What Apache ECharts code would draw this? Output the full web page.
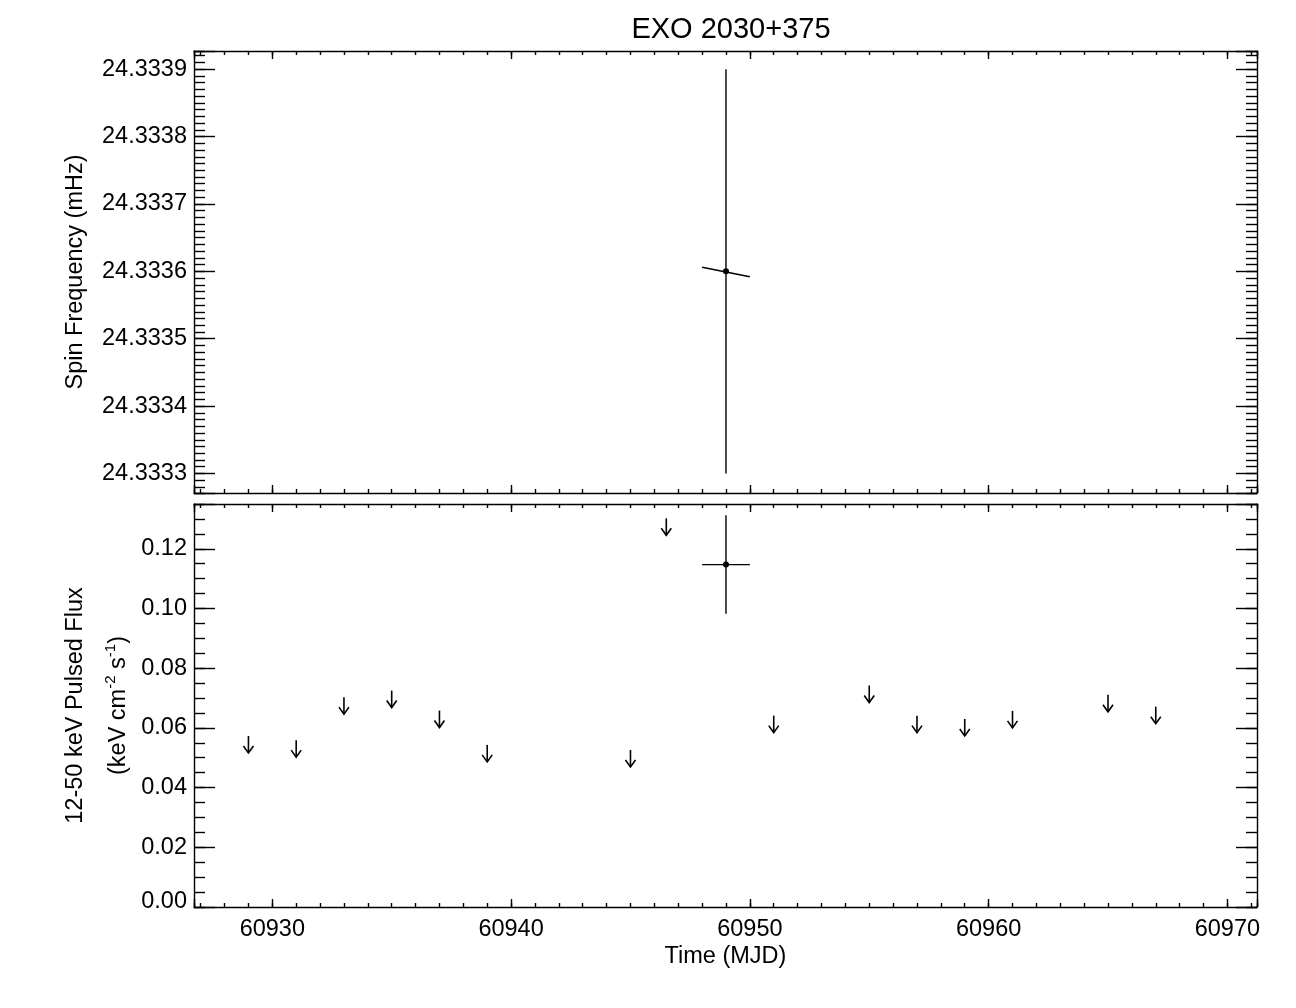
<!DOCTYPE html>
<html>
<head>
<meta charset="utf-8">
<title>EXO 2030+375</title>
<script src="https://cdn.jsdelivr.net/npm/echarts@6/dist/echarts.min.js"></script>
<style>
  html, body { margin: 0; padding: 0; background: #fff; }
  #chart { width: 1296px; height: 1008px; }
</style>
</head>
<body>
<div id="chart"></div>
<script>
// spin frequency measurement (top panel)
const spinTime = [60949.0];
const spinTimeErr = [1.0];
const spinFreq = [24.3336];
const spinFreqErr = [0.0003];
// frequency at the two ends of the time bin (local spin trend)
const spinTrendStart = [24.333606];
const spinTrendEnd = [24.333592];

// pulsed flux detection (bottom panel)
const fluxTime = [60949.0];
const fluxTimeErr = [1.0];
const fluxValue = [0.1147];
const fluxErr = [0.0165];

// pulsed flux upper limits
const limitTime = [60929, 60931, 60933, 60935, 60937, 60939, 60945, 60946.5,
  60951, 60955, 60957, 60959, 60961, 60965, 60967];
const limitFlux = [0.0573, 0.0559, 0.0703, 0.0725, 0.0658, 0.0543, 0.0526, 0.1302,
  0.0641, 0.0742, 0.0641, 0.0630, 0.0657, 0.0711, 0.0671];

// axis ranges and tick steps
const timeRange = [60926.72, 60971.24];
const timeSteps = [10, 1];
const freqRange = [24.333271, 24.333927];
const freqSteps = [0.0001, 0.00001];
const fluxRange = [0, 0.135];
const fluxSteps = [0.02, 0.005];

const FONT = '"Liberation Sans", Arial, Helvetica, sans-serif';
const FS = 23.5;
const black = '#000';

function onStep(v, step) {
  const k = v / step;
  return Math.abs(k - Math.round(k)) < 1e-3;
}

// one axis of the plot box; major/minor ticks are separate axes
function makeAxis(gridIndex, position, range, step, tickLen, isMajor, label, extra) {
  const ax = {
    type: 'value',
    gridIndex: gridIndex,
    position: position,
    min: range[0],
    max: range[1],
    minInterval: step,
    maxInterval: step,
    splitNumber: Math.round((range[1] - range[0]) / step),
    axisLine: { show: isMajor, onZero: false, lineStyle: { color: black, width: 1.4 } },
    axisTick: { show: true, inside: true, length: tickLen, lineStyle: { color: black, width: 1.4 } },
    minorTick: { show: false },
    splitLine: { show: false },
    axisLabel: { show: false }
  };
  if (label) {
    ax.axisLabel = Object.assign({
      show: true,
      color: black,
      fontFamily: FONT,
      fontSize: FS,
      showMinLabel: true,
      showMaxLabel: true
    }, label);
  }
  return Object.assign(ax, extra || {});
}

const lineStyle = { stroke: black, lineWidth: 1.4 };

function renderSpin(params, api) {
  const x = api.value(0), ex = api.value(1), y = api.value(2), ey = api.value(3);
  const top = api.coord([x, y + ey]);
  const bot = api.coord([x, y - ey]);
  const l = api.coord([x - ex, api.value(4)]);
  const r = api.coord([x + ex, api.value(5)]);
  const c = api.coord([x, y]);
  return {
    type: 'group',
    children: [
      { type: 'line', shape: { x1: top[0], y1: top[1], x2: bot[0], y2: bot[1] }, style: lineStyle },
      { type: 'line', shape: { x1: l[0], y1: l[1], x2: r[0], y2: r[1] }, style: lineStyle },
      { type: 'circle', shape: { cx: c[0], cy: c[1], r: 3 }, style: { fill: black } }
    ]
  };
}

function renderFlux(params, api) {
  const x = api.value(0), ex = api.value(1), y = api.value(2), ey = api.value(3);
  const top = api.coord([x, y + ey]);
  const bot = api.coord([x, y - ey]);
  const l = api.coord([x - ex, y]);
  const r = api.coord([x + ex, y]);
  const c = api.coord([x, y]);
  return {
    type: 'group',
    children: [
      { type: 'line', shape: { x1: top[0], y1: top[1], x2: bot[0], y2: bot[1] }, style: lineStyle },
      { type: 'line', shape: { x1: l[0], y1: l[1], x2: r[0], y2: r[1] }, style: lineStyle },
      { type: 'circle', shape: { cx: c[0], cy: c[1], r: 3 }, style: { fill: black } }
    ]
  };
}

// downward arrow starting at the upper limit
function renderLimit(params, api) {
  const p = api.coord([api.value(0), api.value(1)]);
  const len = 17, hw = 5, hh = 7;
  const st = { stroke: black, lineWidth: 1.6, fill: null };
  return {
    type: 'group',
    children: [
      { type: 'line', shape: { x1: p[0], y1: p[1], x2: p[0], y2: p[1] + len }, style: st },
      { type: 'polyline', shape: { points: [[p[0] - hw, p[1] + len - hh], [p[0], p[1] + len], [p[0] + hw, p[1] + len - hh]] }, style: st }
    ]
  };
}

const spinData = spinTime.map((t, i) => [t, spinTimeErr[i], spinFreq[i], spinFreqErr[i], spinTrendStart[i], spinTrendEnd[i]]);
const fluxData = fluxTime.map((t, i) => [t, fluxTimeErr[i], fluxValue[i], fluxErr[i]]);
const limitData = limitTime.map((t, i) => [t, limitFlux[i]]);

const timeLabel = {
  margin: 11,
  formatter: v => onStep(v, timeSteps[0]) ? v.toFixed(0) : ''
};
const freqLabel = {
  margin: 7,
  formatter: v => onStep(v, freqSteps[0]) ? v.toFixed(4) : ''
};
const fluxLabel = {
  margin: 7,
  formatter: v => {
    if (!onStep(v, fluxSteps[0])) return '';
    return v === 0 ? '{lo|0.00}' : v.toFixed(2);
  },
  rich: {
    lo: { fontFamily: FONT, fontSize: FS, color: black, padding: [0, 0, 10, 0] }
  }
};

const nameStyle = { color: black, fontFamily: FONT, fontSize: FS, lineHeight: 43 };

const option = {
  backgroundColor: '#fff',
  animation: false,
  title: {
    text: 'EXO 2030+375',
    left: 726,
    top: 10,
    textAlign: 'center',
    textStyle: { color: black, fontFamily: FONT, fontSize: 29, fontWeight: 'normal' }
  },
  grid: [
    { left: 194, top: 51, width: 1063, height: 442, containLabel: false, outerBoundsMode: 'none' },
    { left: 194, top: 504, width: 1063, height: 403, containLabel: false, outerBoundsMode: 'none' }
  ],
  xAxis: [
    makeAxis(0, 'bottom', timeRange, timeSteps[0], 8, true, null),
    makeAxis(0, 'top', timeRange, timeSteps[0], 8, true, null),
    makeAxis(0, 'bottom', timeRange, timeSteps[1], 4, false, null),
    makeAxis(0, 'top', timeRange, timeSteps[1], 4, false, null),
    makeAxis(1, 'bottom', timeRange, timeSteps[0], 8, true, timeLabel, {
      name: 'Time (MJD)',
      nameLocation: 'middle',
      nameGap: 38,
      nameMoveOverlap: false,
      nameTextStyle: { color: black, fontFamily: FONT, fontSize: FS }
    }),
    makeAxis(1, 'top', timeRange, timeSteps[0], 8, true, null),
    makeAxis(1, 'bottom', timeRange, timeSteps[1], 4, false, null),
    makeAxis(1, 'top', timeRange, timeSteps[1], 4, false, null)
  ],
  yAxis: [
    makeAxis(0, 'left', freqRange, freqSteps[0], 21, true, freqLabel, {
      name: 'Spin Frequency (mHz)',
      nameLocation: 'middle',
      nameGap: 97,
      nameMoveOverlap: false,
      nameTextStyle: nameStyle
    }),
    makeAxis(0, 'right', freqRange, freqSteps[0], 21, true, null),
    makeAxis(0, 'left', freqRange, freqSteps[1], 11, false, null),
    makeAxis(0, 'right', freqRange, freqSteps[1], 11, false, null),
    makeAxis(1, 'left', fluxRange, fluxSteps[0], 21, true, fluxLabel, {
      name: '12-50 keV Pulsed Flux\n(keV cm{sup|-2} s{sup|-1})',
      nameLocation: 'middle',
      nameGap: 54,
      nameMoveOverlap: false,
      nameTextStyle: Object.assign({}, nameStyle, {
        rich: {
          sup: { fontFamily: FONT, fontSize: 15, color: black, lineHeight: 43, padding: [0, 0, 16, 0] }
        }
      })
    }),
    makeAxis(1, 'right', fluxRange, fluxSteps[0], 21, true, null),
    makeAxis(1, 'left', fluxRange, fluxSteps[1], 11, false, null),
    makeAxis(1, 'right', fluxRange, fluxSteps[1], 11, false, null)
  ],
  series: [
    {
      type: 'custom',
      name: 'spin',
      xAxisIndex: 0,
      yAxisIndex: 0,
      renderItem: renderSpin,
      encode: { x: 0, y: 2 },
      data: spinData
    },
    {
      type: 'custom',
      name: 'flux',
      xAxisIndex: 4,
      yAxisIndex: 4,
      renderItem: renderFlux,
      encode: { x: 0, y: 2 },
      data: fluxData
    },
    {
      type: 'custom',
      name: 'upper limits',
      xAxisIndex: 4,
      yAxisIndex: 4,
      renderItem: renderLimit,
      encode: { x: 0, y: 1 },
      data: limitData
    }
  ]
};

const myChart = echarts.init(document.getElementById('chart'), null, { renderer: 'canvas' });
myChart.setOption(option);
window.onresize = function () {
  myChart.resize();
};
</script>
</body>
</html>
